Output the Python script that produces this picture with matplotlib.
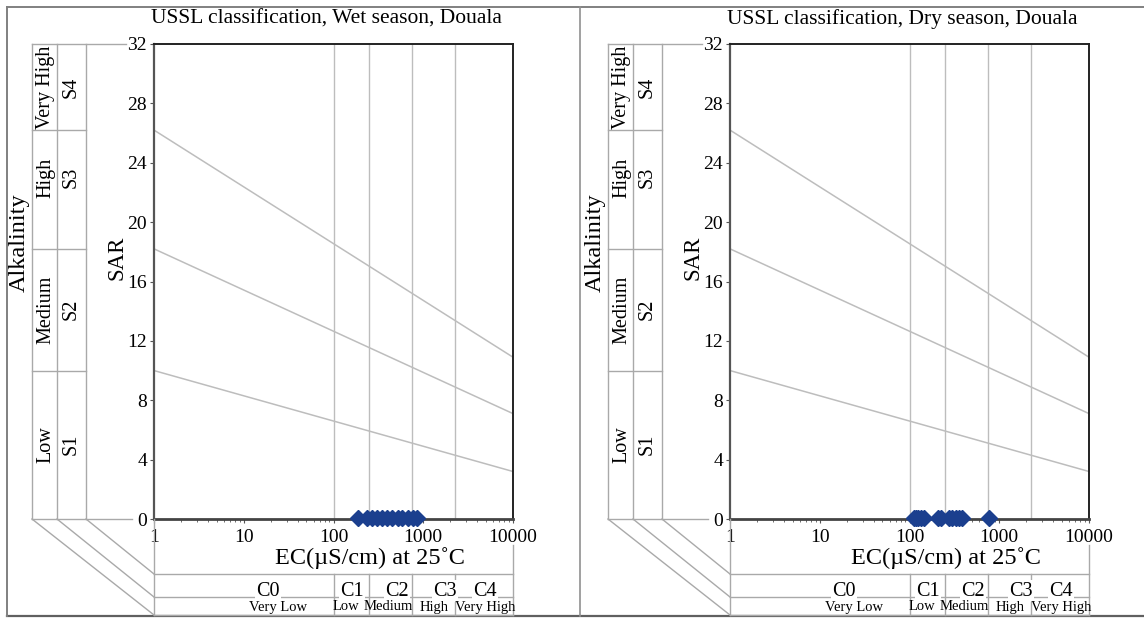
import matplotlib
matplotlib.use("Agg")
import matplotlib.pyplot as plt
from matplotlib.lines import Line2D
from matplotlib.transforms import blended_transform_factory as blend

plt.rcParams["font.family"] = ["Liberation Serif", "DejaVu Serif"]

W, H = 1144, 618

# ---- classification scheme ----
ec_class_bounds = [100, 250, 750, 2250]
ec_class_codes = ["C0", "C1", "C2", "C3", "C4"]
ec_class_names = ["Very Low", "Low", "Medium", "High", "Very High"]
sar_class_codes = ["S1", "S2", "S3", "S4"]
sar_class_names = ["Low", "Medium", "High", "Very High"]

# SAR boundary lines: value at EC = 1 and at EC = 10000
line_ec = [1, 10000]
sar_s1_s2 = [10.0, 3.2]
sar_s2_s3 = [18.2, 7.1]
sar_s3_s4 = [26.2, 10.9]

# ---- samples ----
wet_ec = [187, 236, 269, 305, 348, 395, 450, 523, 580, 676, 770, 850]
wet_sar = [0.1, 0.1, 0.1, 0.1, 0.1, 0.1, 0.1, 0.1, 0.1, 0.1, 0.1, 0.1]
dry_ec = [111, 118, 124, 133, 144, 207, 223, 275, 300, 330, 355, 383, 769]
dry_sar = [0.1, 0.1, 0.1, 0.1, 0.1, 0.1, 0.1, 0.1, 0.1, 0.1, 0.1, 0.1, 0.1]

y_ticks = [0, 4, 8, 12, 16, 20, 24, 28, 32]
x_ticks = [1, 10, 100, 1000, 10000]
x_tick_labels = ["1", "10", "100", "1000", "10000"]

titles = ["USSL classification, Wet season, Douala",
          "USSL classification, Dry season, Douala"]

# layout (pixels)
code_label_ec = [18.6, 160, 510, 1740, 4900]
name_label_ec = [24, 136, 410, 1330, 4900]
sar_label_pos = [5.0, 14.1, 23.0, 29.1]

GRID = "#bdbdbd"
FRAME = "#a9a9a9"
MARK = "#1b3f8e"

fig = plt.figure(figsize=(W / 100, H / 100), dpi=100)


def fx(x):
    return x / W


def fy(y):
    return 1 - y / H


def fig_line(xs, ys, color=FRAME, lw=1.0):
    fig.add_artist(Line2D([fx(v) for v in xs], [fy(v) for v in ys],
                          transform=fig.transFigure, color=color, lw=lw))


# outer frame
fig_line([7, W], [7, 7], color="#808080", lw=1.4)
fig_line([7, W], [616, 616], color="#606060", lw=1.6)
fig_line([7, 7], [7, 616], color="#808080", lw=1.4)
fig_line([580, 580], [7, 616], color="#909090", lw=1.2)


def panel(x0, title, ec, sar):
    ax_w, top, bot = 359, 44, 519
    ax = fig.add_axes([fx(x0), fy(bot), ax_w / W, (bot - top) / H])
    ax.set_xscale("log")
    ax.set_xlim(1, 10000)
    ax.set_ylim(0, 32)
    ax.set_xticks(x_ticks)
    ax.set_xticklabels(x_tick_labels)
    ax.set_yticks(y_ticks)
    ax.tick_params(axis="both", which="major", labelsize=14, length=3,
                   color="#555555", pad=2)
    ax.tick_params(axis="x", which="minor", length=2.5, color="#555555")
    ax.tick_params(axis="x", pad=4)
    for s in ["top", "right"]:
        ax.spines[s].set_color("#222222")
        ax.spines[s].set_linewidth(1.4)
    ax.spines["left"].set_color("#555555")
    ax.spines["left"].set_linewidth(1.6)
    ax.spines["bottom"].set_color("#444444")
    ax.spines["bottom"].set_linewidth(2.0)

    for b in ec_class_bounds:
        ax.axvline(b, color=GRID, lw=1.0, zorder=1)
    for ln in (sar_s1_s2, sar_s2_s3, sar_s3_s4):
        ax.plot(line_ec, ln, color=GRID, lw=1.1, zorder=1)

    ax.plot(ec, sar, linestyle="none", marker="D", markersize=8.5,
            color=MARK, markeredgecolor=MARK, clip_on=False, zorder=5)

    ax.set_ylabel("SAR", fontsize=16.5, labelpad=2)
    ax.yaxis.set_label_coords(-0.075, 0.55)

    # alkalinity columns on the left
    c1, c2, c3 = x0 - 122, x0 - 97, x0 - 68
    ty = blend(fig.transFigure, ax.transData)
    for cx in (c1, c2, c3):
        fig.add_artist(Line2D([fx(cx), fx(cx)], [0, 32], transform=ty,
                              color=FRAME, lw=1.0))
    fig.add_artist(Line2D([fx(c1), fx(x0 - 28)], [32, 32], transform=ty,
                          color=FRAME, lw=1.0))
    fig.add_artist(Line2D([fx(c1), fx(x0 - 22)], [0, 0], transform=ty,
                          color=FRAME, lw=1.0))
    for ln in (sar_s1_s2, sar_s2_s3, sar_s3_s4):
        fig.add_artist(Line2D([fx(c1), fx(c3)], [ln[0], ln[0]], transform=ty,
                              color=FRAME, lw=1.0))
    for name, code, yv in zip(sar_class_names, sar_class_codes, sar_label_pos):
        fig.text(fx((c1 + c2) / 2 + 1), yv, name, transform=ty, rotation=90,
                 ha="center", va="center", fontsize=14.5)
        fig.text(fx((c2 + c3) / 2), yv, code, transform=ty, rotation=90,
                 ha="center", va="center", fontsize=14.5)
    fig.text(fx(x0 - 135), fy(243), "Alkalinity", rotation=90,
             ha="center", va="center", fontsize=17.5)

    # perspective connectors to the salinity band below
    rows = [574, 597, 615]
    for cx, ry in zip((c3, c2, c1), rows):
        fig_line([cx, x0], [bot, ry])
        fig_line([x0, x0 + ax_w], [ry, ry])
    fig_line([x0, x0], [bot, 615])
    tx = blend(ax.transData, fig.transFigure)
    for b in ec_class_bounds:
        fig.add_artist(Line2D([b, b], [fy(574), fy(615)], transform=tx,
                              color=FRAME, lw=1.0))
    fig.add_artist(Line2D([10000, 10000], [fy(545), fy(615)], transform=tx,
                          color=FRAME, lw=1.0))

    for code, xv in zip(ec_class_codes, code_label_ec):
        fig.text(xv, fy(591), code, transform=tx, ha="center", va="center",
                 fontsize=14.5, bbox=dict(boxstyle="square,pad=0.05",
                                          fc="white", ec="none"))
    for name, xv in zip(ec_class_names, name_label_ec):
        fig.text(xv, fy(607), name, transform=tx, ha="center", va="center",
                 fontsize=10.5)

    fig.text(fx(x0 + 216), fy(558), "EC(\u00b5S/cm) at 25\u02daC",
             ha="center", va="center", fontsize=17.5,
             bbox=dict(boxstyle="square,pad=0.1", fc="white", ec="none"))
    fig.text(fx(x0 + 172), fy(19), title, ha="center", va="center",
             fontsize=15.5)
    return ax


panel(154, titles[0], wet_ec, wet_sar)
panel(730, titles[1], dry_ec, dry_sar)

fig.savefig("out.png", dpi=100)
